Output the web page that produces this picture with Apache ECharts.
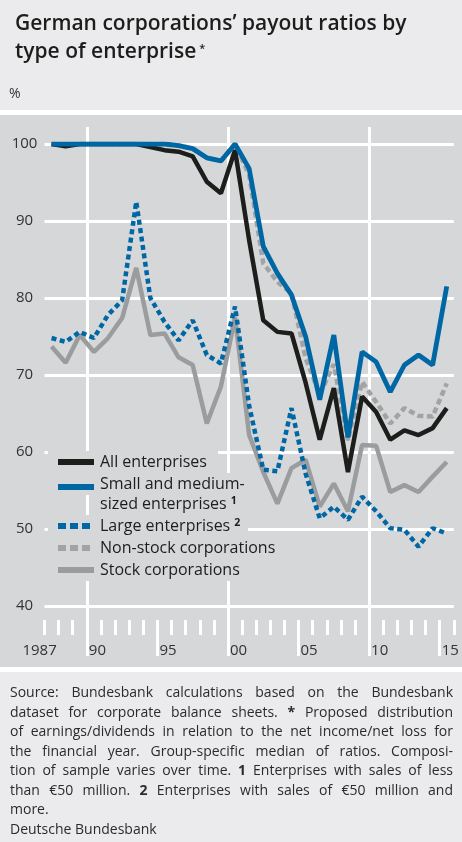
<!DOCTYPE html>
<html><head><meta charset="utf-8">
<script src="https://cdn.jsdelivr.net/npm/echarts@6/dist/echarts.min.js"></script>
<style>
html,body{margin:0;padding:0;width:462px;height:842px;overflow:hidden;background:#ebebed;}
#panel{position:absolute;left:0;top:115px;width:462px;height:552px;background:#d6d7d9;}
.sep{position:absolute;left:0;width:462px;height:5px;background:#fff;}
#chart{position:absolute;left:0;top:0;width:462px;height:842px;}
#footer{position:absolute;left:10px;top:682px;width:443px;font-family:'Open Sans',sans-serif;font-size:14px;line-height:19.5px;color:#2b2b2b;}
#footer .j{text-align:justify;text-align-last:justify;word-spacing:-1.2px;}
#footer .last{margin-top:0.5px;}
</style></head><body>
<div class="sep" style="top:110px"></div>
<div id="panel"></div>
<div class="sep" style="top:667px"></div>
<div id="chart"></div>
<div id="footer">
<div class="j">Source: Bundesbank calculations based on the Bundesbank</div>
<div class="j">dataset for corporate balance sheets. <b>*</b> Proposed distribution</div>
<div class="j">of earnings/dividends in relation to the net income/net loss for</div>
<div class="j">the financial year. Group-specific median of ratios. Composi-</div>
<div class="j">tion of sample varies over time. <b>1</b> Enterprises with sales of less</div>
<div class="j">than €50 million. <b>2</b> Enterprises with sales of €50 million and</div>
<div>more.</div>
<div class="last">Deutsche Bundesbank</div>
</div>
<script>
// ---- data ----
const years = ['1987','1988','1989','1990','1991','1992','1993','1994','1995','1996','1997','1998','1999','2000','2001','2002','2003','2004','2005','2006','2007','2008','2009','2010','2011','2012','2013','2014','2015'];
const allEnterprises = [100, 99.7, 100, 100, 100, 100, 100, 99.6, 99.2, 99.0, 98.4, 95.1, 93.6, 99.2, 87.5, 77.1, 75.6, 75.4, 69.0, 61.6, 68.3, 57.4, 67.2, 65.2, 61.6, 62.8, 62.2, 63.1, 65.7];
const smallMedium = [100, 100, 100, 100, 100, 100, 100, 100, 100, 99.8, 99.4, 98.2, 97.8, 100, 96.8, 86.7, 83.2, 80.4, 75.0, 66.8, 75.2, 61.9, 73.0, 71.7, 67.8, 71.3, 72.6, 71.3, 81.5];
const largeEnterprises = [74.8, 74.3, 75.6, 74.8, 77.8, 79.7, 92.5, 80.0, 76.9, 74.5, 77.1, 72.6, 71.5, 78.9, 66.0, 57.7, 57.5, 65.7, 57.2, 51.4, 52.9, 51.2, 54.2, 52.3, 50.1, 49.9, 47.7, 50.1, 49.4];
const nonStock = [100, 100, 100, 100, 100, 100, 100, 100, 100, 99.8, 99.4, 98.2, 97.8, 100, 96.0, 84.5, 82.1, 80.6, 72.2, 67.5, 71.4, 61.5, 69.1, 66.5, 63.7, 65.7, 64.7, 64.6, 68.9];
const stockCorps = [73.7, 71.6, 75.2, 73.0, 74.8, 77.4, 83.9, 75.2, 75.4, 72.3, 71.3, 63.7, 68.5, 77.5, 62.2, 57.4, 53.3, 57.9, 59.0, 52.9, 55.9, 52.3, 60.9, 60.8, 54.8, 55.7, 54.8, 56.8, 58.7];
const labelYears = ['1987','1990','1995','2000','2005','2010','2015'];
const labelTexts = ['1987','90','95','00','05','10','15'];
const legendLines = ['All enterprises', 'Small and medium-', 'sized enterprises{s|1}', 'Large enterprises{s|2}', 'Non-stock corporations', 'Stock corporations'];

// ---- footer fit ----
(function(){
  const c = document.createElement('canvas').getContext('2d');
  c.font = "14px 'Open Sans'";
  let w = 0;
  document.querySelectorAll('#footer div.j').forEach(d => {
    const t = d.textContent; const n = (t.match(/ /g) || []).length;
    w = Math.max(w, c.measureText(t).width - n * 1.2);
  });
  if (w > 441) document.getElementById('footer').style.fontSize = (14 * 441 / w).toFixed(2) + 'px';
})();

const FONT = "'Open Sans', sans-serif";
const BLUE = '#0067a5', BLACK = '#1d1d1b', GREY = '#9b9c9e', GREY2 = '#a2a3a5', PANEL = '#d6d7d9';
const GL = 44.5, GR = 8.2;

const chart = echarts.init(document.getElementById('chart'), null, {renderer: 'canvas'});

const textBase = {fontFamily: FONT, fontSize: 16, fill: BLACK};
const supRich = {s: {fontFamily: FONT, fontSize: 10.5, fontWeight: 'bold', verticalAlign: 'top', padding: [0, 0, 0, 4], fill: BLACK, color: BLACK}};
const legendRows = [
  {y: 462, x0: 48, x1: 218, sym: {color: BLACK}},
  {y: 484, x0: 48, x1: 248, sym: {color: BLUE, dy: 3}},
  {y: 504, x0: 96, x1: 240},
  {y: 526, x0: 48, x1: 248, sym: {color: BLUE, dash: [8, 4]}},
  {y: 548, x0: 48, x1: 285, sym: {color: GREY2, dash: [8, 4]}},
  {y: 570, x0: 48, x1: 250, sym: {color: GREY}}
];
const graphics = [
  {type: 'text', left: 9, top: 87, z: 10, style: {text: '%', fontFamily: FONT, fontSize: 14, fill: '#333'}}
];
legendRows.forEach((r, i) => {
  graphics.push({type: 'rect', z: 10, shape: {x: r.x0, y: r.y - 11, width: r.x1 - r.x0, height: 22}, style: {fill: PANEL}});
  if (r.sym) {
    const sy = r.y + (r.sym.dy || 0);
    graphics.push({type: 'line', z: 11, shape: {x1: 58, y1: sy, x2: 94, y2: sy}, style: {stroke: r.sym.color, lineWidth: 6, lineDash: r.sym.dash || null}});
  }
  graphics.push({type: 'text', z: 11, x: 100, y: r.y, style: Object.assign({}, textBase, {text: legendLines[i], verticalAlign: 'middle', rich: supRich})});
});

function lineSeries(name, data, color, width, dash) {
  return {name, type: 'line', data, xAxisIndex: 0, yAxisIndex: 0, symbol: 'none', smooth: false,
    lineStyle: {color, width, type: dash || 'solid', cap: 'butt'}, itemStyle: {color}};
}

const option = {
  animation: false,
  title: {
    left: 10, top: 5,
    text: '{t|German corporations’ payout ratios by}\n{t|type of enterprise}{s|*}',
    textStyle: {rich: {
      t: {fontFamily: FONT, fontSize: 21, fontWeight: 600, color: BLACK, lineHeight: 28},
      s: {fontFamily: FONT, fontSize: 11, fontWeight: 600, color: BLACK, verticalAlign: 'top', lineHeight: 18, padding: [5, 0, 0, 3]}
    }}
  },
  grid: [
    {left: GL, right: GR, top: 144, bottom: 236},
    {left: GL, right: GR, top: 127, bottom: 186},
    {left: GL, right: GR, top: 620, bottom: 186}
  ],
  xAxis: [
    {gridIndex: 0, type: 'category', data: years, boundaryGap: true, offset: 14,
      axisLine: {show: false},
      axisTick: {show: true, interval: 0, length: 15, lineStyle: {color: '#fff', width: 3}},
      splitLine: {show: false},
      axisLabel: {
        interval: (i, v) => labelYears.indexOf(v) >= 0,
        margin: 23,
        formatter: v => { const k = labelYears.indexOf(v); return k === 0 ? '{l|' + labelTexts[k] + '}' : '{r|' + labelTexts[k] + '}'; },
        rich: {
          l: {fontFamily: FONT, fontSize: 15, color: '#333', padding: [0, 24, 0, 0]},
          r: {fontFamily: FONT, fontSize: 15, color: '#333', padding: [0, 0, 0, 7]}
        }
      }},
    {gridIndex: 1, type: 'category', data: years, boundaryGap: true,
      axisLine: {show: false}, axisTick: {show: false}, axisLabel: {show: false},
      splitLine: {show: true, interval: (i, v) => (+v) % 10 === 0, showMaxLine: false, lineStyle: {color: '#fff', width: 3}}},
    {gridIndex: 2, type: 'category', data: years, boundaryGap: true,
      axisLine: {show: false}, axisTick: {show: false}, axisLabel: {show: false},
      splitLine: {show: true, interval: (i, v) => (+v) % 5 === 0, showMaxLine: false, lineStyle: {color: '#fff', width: 3}}}
  ],
  yAxis: [
    {gridIndex: 0, type: 'value', min: 40, max: 100, interval: 10,
      axisLine: {show: false}, axisTick: {show: false},
      splitLine: {lineStyle: {color: '#fff', width: 3}},
      axisLabel: {align: 'center', margin: 20, fontFamily: FONT, fontSize: 15, color: '#333'}},
    {gridIndex: 1, type: 'value', show: false},
    {gridIndex: 2, type: 'value', show: false}
  ],
  series: [
    lineSeries('Stock corporations', stockCorps, GREY, 4.5),
    lineSeries('Non-stock corporations', nonStock, GREY2, 4.5, [6, 3.5]),
    lineSeries('Large enterprises', largeEnterprises, BLUE, 4.5, [5, 3.5]),
    lineSeries('All enterprises', allEnterprises, BLACK, 4.5),
    lineSeries('Small and medium-sized enterprises', smallMedium, BLUE, 4.8)
  ],
  graphic: graphics
};
chart.setOption(option);
</script>
</body></html>
